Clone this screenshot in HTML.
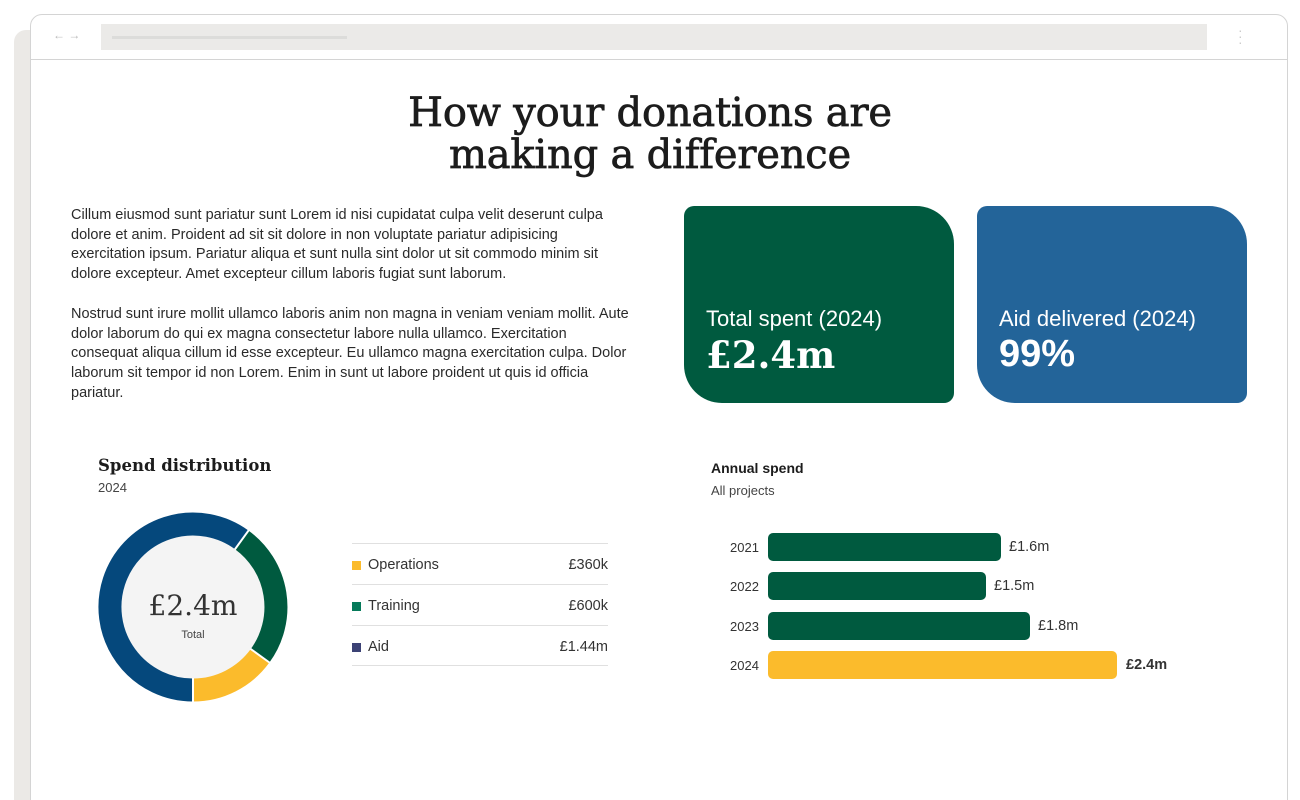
<!DOCTYPE html>
<html><head><meta charset="utf-8"><style>
*{margin:0;padding:0;box-sizing:border-box}
html,body{width:1300px;height:800px;overflow:hidden}
body{background:#fff;position:relative;font-family:"Liberation Sans",sans-serif;color:#222}
.shadow{position:absolute;left:14px;top:30px;width:1260px;height:800px;background:#ebe9e6;border-radius:12px}
.frame{position:absolute;left:30px;top:14px;width:1258px;height:820px;background:#fff;border:1.5px solid #d4d4d4;border-radius:12px}
.hdr{position:absolute;left:0;top:0;width:100%;height:45px;border-bottom:1.5px solid #d4d4d4}
.url{position:absolute;left:70px;top:9px;width:1106px;height:26px;background:#ebeae8}
.url i{position:absolute;left:11px;top:12px;width:235px;height:3px;background:#dcdcda}
.arr{position:absolute;left:22px;top:13px;font-size:12px;color:#bbb}
.dots{position:absolute;left:1207px;top:12px;font-size:14px;color:#ccc;line-height:6px}
h1{position:absolute;left:0;width:1300px;top:92px;text-align:center;font-family:"DejaVu Serif",serif;font-weight:normal;font-size:40px;line-height:42px;color:#1c1c1c;letter-spacing:-0.2px;-webkit-text-stroke:0.7px #1c1c1c}
.p{position:absolute;left:71px;width:565px;font-size:14.5px;line-height:19.7px;color:#2a2a2a}
.card{position:absolute;top:206px;width:270px;height:197px;border-radius:10px 38px 10px 38px;color:#fff;padding-left:22px}
.card .l{position:absolute;left:22px;top:100px;font-size:22px}
.card .v{position:absolute;left:22px;top:127px;font-size:37px;font-weight:bold;font-family:"DejaVu Serif",serif}
.sd{position:absolute;left:98px;top:456px;font-family:"DejaVu Serif",serif;font-size:16.5px;font-weight:bold;color:#1c1c1c}
.small{position:absolute;font-size:13px;color:#444}
.leg{position:absolute;left:352px;width:256px;border-top:1.5px solid #e0e0e0;height:41px;font-size:14.5px;color:#333}
.leg span.sq{position:absolute;left:0;top:17px;width:9px;height:9px}
.leg .n{position:absolute;left:16px;top:13px}
.leg .val{position:absolute;right:0;top:13px}
.bar{position:absolute;left:768px;height:28px;border-radius:5px;background:#005a3f}
.yr{position:absolute;left:730px;font-size:13px;color:#333}
.bv{position:absolute;font-size:14.5px;color:#333}
</style></head><body>
<div class="shadow"></div>
<div class="frame"><div class="hdr"><div class="arr">← →</div><div class="url"><i></i></div><div class="dots">·<br>·<br>·</div></div></div>
<h1>How your donations are<br>making a difference</h1>
<div class="p" style="top:206px">Cillum eiusmod sunt pariatur sunt Lorem id nisi cupidatat culpa velit deserunt culpa dolore et anim. Proident ad sit sit dolore in non voluptate pariatur adipisicing exercitation ipsum. Pariatur aliqua et sunt nulla sint dolor ut sit commodo minim sit dolore excepteur. Amet excepteur cillum laboris fugiat sunt laborum.</div>
<div class="p" style="top:305px">Nostrud sunt irure mollit ullamco laboris anim non magna in veniam veniam mollit. Aute dolor laborum do qui ex magna consectetur labore nulla ullamco. Exercitation consequat aliqua cillum id esse excepteur. Eu ullamco magna exercitation culpa. Dolor laborum sit tempor id non Lorem. Enim in sunt ut labore proident ut quis id officia pariatur.</div>
<div class="card" style="left:684px;background:#005a3f"><div class="l">Total spent (2024)</div><div class="v">£2.4m</div></div>
<div class="card" style="left:977px;background:#236499"><div class="l">Aid delivered (2024)</div><div class="v" style="font-family:'Liberation Sans',sans-serif;font-size:38px">99%</div></div>
<div class="sd">Spend distribution</div>
<div class="small" style="left:98px;top:480px">2024</div>
<svg style="position:absolute;left:0;top:0" width="1300" height="800">
<circle cx="193" cy="607" r="72" fill="#f4f4f4"/>
<g fill="none" stroke-width="23">
<path d="M 241.8 539.9 A 83 83 0 0 1 260.1 655.8" stroke="#005a3f"/>
<path d="M 260.1 655.8 A 83 83 0 0 1 193 690" stroke="#fbbb2c"/>
<path d="M 193 690 A 83 83 0 1 1 241.8 539.9" stroke="#05487c"/>
</g>
<g stroke="#fff" stroke-width="2"><line x1="193" y1="678" x2="193" y2="703"/><line x1="250.5" y1="648.8" x2="270.8" y2="663.5"/><line x1="234.8" y1="549.5" x2="249.6" y2="529.1"/></g>
<text x="193" y="615" text-anchor="middle" font-family="DejaVu Serif,serif" font-size="28" fill="#333">£2.4m</text>
<text x="193" y="638" text-anchor="middle" font-family="Liberation Sans,sans-serif" font-size="11" fill="#444">Total</text>
</svg>
<div class="leg" style="top:543px"><span class="sq" style="background:#fbbb2c"></span><span class="n">Operations</span><span class="val">£360k</span></div>
<div class="leg" style="top:584px"><span class="sq" style="background:#067a5a"></span><span class="n">Training</span><span class="val">£600k</span></div>
<div class="leg" style="top:625px;border-bottom:1.5px solid #e0e0e0"><span class="sq" style="background:#3c4275"></span><span class="n">Aid</span><span class="val">£1.44m</span></div>
<div style="position:absolute;left:711px;top:460px;font-size:14px;font-weight:bold;color:#1c1c1c">Annual spend</div>
<div class="small" style="left:711px;top:483px">All projects</div>
<div class="yr" style="top:540px">2021</div><div class="bar" style="top:533px;width:233px"></div><div class="bv" style="left:1009px;top:539px">£1.6m</div>
<div class="yr" style="top:579px">2022</div><div class="bar" style="top:572px;width:218px"></div><div class="bv" style="left:994px;top:578px">£1.5m</div>
<div class="yr" style="top:619px">2023</div><div class="bar" style="top:612px;width:262px"></div><div class="bv" style="left:1038px;top:618px">£1.8m</div>
<div class="yr" style="top:658px">2024</div><div class="bar" style="top:651px;width:349px;background:#fbbb2c"></div><div class="bv" style="left:1126px;top:657px;font-weight:bold">£2.4m</div>
</body></html>
